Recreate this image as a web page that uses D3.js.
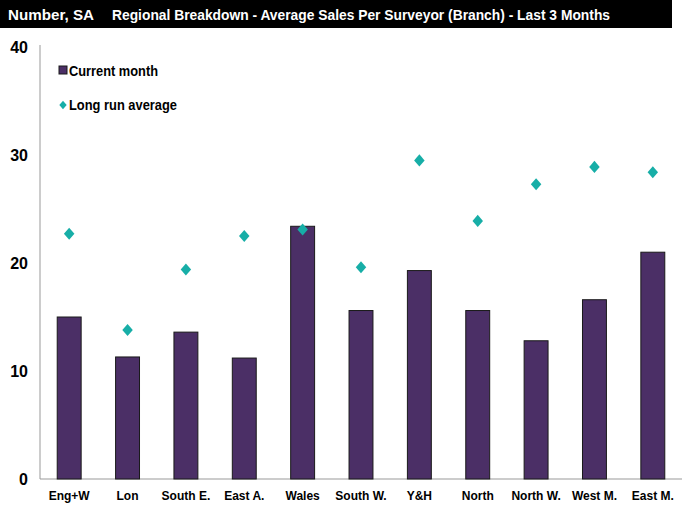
<!DOCTYPE html>
<html>
<head>
<meta charset="utf-8">
<script src="https://cdn.jsdelivr.net/npm/d3@7"></script>
<style>
  body { margin: 0; background: #fff; }
  svg text { font-family: "Liberation Sans Narrow", "Arial Narrow", "Liberation Sans", Arial, sans-serif; font-weight: bold; }
</style>
</head>
<body>
<div id="chart"></div>
<script>
var regions = ["Eng+W", "Lon", "South E.", "East A.", "Wales", "South W.", "Y&H", "North", "North W.", "West M.", "East M."];
var currentMonth = [15.0, 11.3, 13.6, 11.2, 23.4, 15.6, 19.3, 15.6, 12.8, 16.6, 21.0];
var longRunAvg = [22.7, 13.8, 19.4, 22.5, 23.1, 19.6, 29.5, 23.9, 27.3, 28.9, 28.4];
var yTicks = [0, 10, 20, 30, 40];

var w = 688, h = 506;
var svg = d3.select("#chart").append("svg")
    .attr("width", w)
    .attr("height", h);

// header bar
svg.append("rect")
  .attr("x", 0).attr("y", 0)
  .attr("width", 672).attr("height", 28)
  .attr("fill", "#000");
svg.append("text")
  .attr("x", 8).attr("y", 20)
  .attr("fill", "#fff")
  .attr("font-size", 15)
  .attr("textLength", 86)
  .attr("lengthAdjust", "spacingAndGlyphs")
  .text("Number, SA");
svg.append("text")
  .attr("x", 112).attr("y", 20)
  .attr("fill", "#fff")
  .attr("font-size", 15)
  .attr("textLength", 498)
  .attr("lengthAdjust", "spacingAndGlyphs")
  .text("Regional Breakdown - Average Sales Per Surveyor (Branch) - Last 3 Months");

var x = d3.scaleBand()
    .domain(regions)
    .range([40, 682])
    .paddingInner(0.59)
    .paddingOuter(0.295);
var y = d3.scaleLinear()
    .domain([0, 40])
    .range([479, 47]);

// axes lines
svg.append("line")
  .attr("x1", 40).attr("x2", 40)
  .attr("y1", 45).attr("y2", y(0))
  .attr("stroke", "#999");
svg.append("line")
  .attr("x1", 40).attr("x2", 682)
  .attr("y1", y(0)).attr("y2", y(0))
  .attr("stroke", "#999");

svg.selectAll(".ytick")
  .data(yTicks)
  .enter().append("text")
  .attr("class", "ytick")
  .attr("x", 28)
  .attr("y", function(d) { return y(d) + 6; })
  .attr("text-anchor", "end")
  .attr("font-size", 16)
  .attr("fill", "#000")
  .text(function(d) { return d; });

svg.selectAll(".xlabel")
  .data(regions)
  .enter().append("text")
  .attr("class", "xlabel")
  .attr("x", function(d) { return x(d) + x.bandwidth() / 2; })
  .attr("y", 500)
  .attr("text-anchor", "middle")
  .attr("font-size", 12)
  .attr("fill", "#000")
  .text(function(d) { return d; });

svg.selectAll("rect.bar")
  .data(currentMonth)
  .enter().append("rect")
  .attr("class", "bar")
  .attr("x", function(d, i) { return x(regions[i]); })
  .attr("y", function(d) { return y(d); })
  .attr("width", x.bandwidth())
  .attr("height", function(d) { return y(0) - y(d); })
  .attr("fill", "#4b2f66")
  .attr("stroke", "#1a1a1a")
  .attr("stroke-width", 1);

// wider diamond than d3.symbolDiamond
var wideDiamond = {
  draw: function(ctx, size) {
    var r = Math.sqrt(size) / 2;
    ctx.moveTo(0, -r * 1.15);
    ctx.lineTo(r, 0);
    ctx.lineTo(0, r * 1.15);
    ctx.lineTo(-r, 0);
    ctx.closePath();
  }
};
var diamond = d3.symbol().type(wideDiamond).size(110);
svg.selectAll("path.avg")
  .data(longRunAvg)
  .enter().append("path")
  .attr("class", "avg")
  .attr("d", diamond)
  .attr("transform", function(d, i) {
    return "translate(" + (x(regions[i]) + x.bandwidth() / 2) + "," + y(d) + ")";
  })
  .attr("fill", "#17aea7");

// legend
svg.append("rect")
  .attr("x", 59).attr("y", 66)
  .attr("width", 8).attr("height", 8)
  .attr("fill", "#4b2f66")
  .attr("stroke", "#1a1a1a");
svg.append("text")
  .attr("x", 69).attr("y", 76)
  .attr("font-size", 14)
  .attr("textLength", 89)
  .attr("lengthAdjust", "spacingAndGlyphs")
  .text("Current month");
svg.append("path")
  .attr("d", d3.symbol().type(wideDiamond).size(55))
  .attr("transform", "translate(63,105)")
  .attr("fill", "#17aea7");
svg.append("text")
  .attr("x", 69).attr("y", 110)
  .attr("font-size", 14)
  .attr("textLength", 108)
  .attr("lengthAdjust", "spacingAndGlyphs")
  .text("Long run average");
</script>
</body>
</html>
